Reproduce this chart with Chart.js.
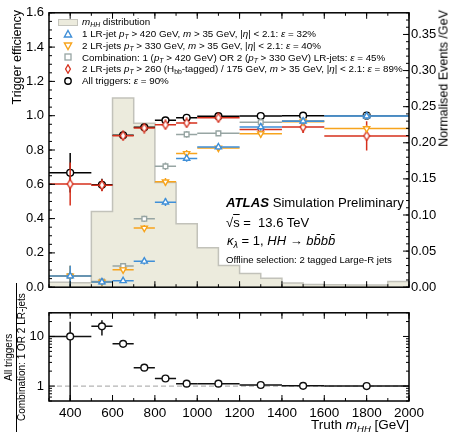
<!DOCTYPE html>
<html lang="en">
<head>
<meta charset="UTF-8">
<title>Trigger efficiency vs truth mHH</title>
<script src="https://cdn.jsdelivr.net/npm/chart.js"></script>
<style>
  body { margin: 0; background: #fff; }
  #wrap { position: relative; width: 451px; height: 432px; overflow: hidden;
          font-family: "Liberation Sans", Arial, sans-serif; color: #000; }
  canvas { position: absolute; left: 0; }
  .txt { position: absolute; white-space: nowrap; line-height: 1; }
  .vert { position: absolute; writing-mode: vertical-rl; transform: rotate(180deg);
          white-space: nowrap; line-height: 1; }
  sub { font-size: 70%; vertical-align: -0.3em; line-height: 0; }
  .leg { position: absolute; left: 82px; font-size: 9.8px; white-space: nowrap; line-height: 1; }
  .ico { position: absolute; left: 63px; width: 10px; height: 10px; }
</style>
</head>
<body>
<div id="wrap">
  <canvas id="top" width="451" height="300" style="top:0"></canvas>
  <canvas id="bot" width="451" height="132" style="top:300px"></canvas>

  <!-- legend -->
  <div style="position:absolute;left:58px;top:19px;width:20px;height:7px;background:#ecebdd;border:1px solid #c4c4bc;box-sizing:border-box"></div>
  <div class="leg" style="top:17.4px"><i>m</i><sub><i>HH</i></sub> distribution</div>
  <svg class="ico" style="top:29px"><polygon points="5,1.5 8.6,8 1.4,8" fill="#fff" stroke="#3f8fd8" stroke-width="1.4"/></svg>
  <div class="leg" style="top:29.2px">1 LR-jet <i>p</i><sub><i>T</i></sub> &gt; 420 GeV, <i>m</i> &gt; 35 GeV, |<i>η</i>| &lt; 2.1: <i>ε</i> = 32%</div>
  <svg class="ico" style="top:40.7px"><polygon points="1.4,2 8.6,2 5,8.5" fill="#fff" stroke="#f7a41d" stroke-width="1.4"/></svg>
  <div class="leg" style="top:40.9px">2 LR-jets <i>p</i><sub><i>T</i></sub> &gt; 330 GeV, <i>m</i> &gt; 35 GeV, |<i>η</i>| &lt; 2.1: <i>ε</i> = 40%</div>
  <svg class="ico" style="top:52.3px"><rect x="2" y="2" width="6" height="6" fill="#fff" stroke="#97a5a3" stroke-width="1.3"/></svg>
  <div class="leg" style="top:52.5px">Combination: 1 (<i>p</i><sub><i>T</i></sub> &gt; 420 GeV) OR 2 (<i>p</i><sub><i>T</i></sub> &gt; 330 GeV) LR-jets: <i>ε</i> = 45%</div>
  <svg class="ico" style="top:64px"><polygon points="5,0.8 7.4,5 5,9.2 2.6,5" fill="#fff" stroke="#d6301d" stroke-width="1.3"/></svg>
  <div class="leg" style="top:64.2px">2 LR-jets <i>p</i><sub><i>T</i></sub> &gt; 260 (H<sub>bb</sub>-tagged) / 175 GeV, <i>m</i> &gt; 35 GeV, |<i>η</i>| &lt; 2.1: <i>ε</i> = 89%</div>
  <svg class="ico" style="top:75.7px"><circle cx="5" cy="5" r="3.2" fill="#fff" stroke="#000" stroke-width="1.4"/></svg>
  <div class="leg" style="top:75.9px">All triggers: <i>ε</i> = 90%</div>

  <!-- labels -->
  <div class="txt" style="left:226px;top:195.5px;font-size:13.2px"><b><i>ATLAS</i></b> Simulation Preliminary</div>
  <div class="txt" style="left:226px;top:215.5px;font-size:13px">√<span style="text-decoration:overline">s</span> =&nbsp; 13.6 TeV</div>
  <div class="txt" style="left:227px;top:233.5px;font-size:13px"><i>κ</i><sub><i>λ</i></sub> = 1, <i>HH</i> → <i>bb̄bb̄</i></div>
  <div class="txt" style="left:226px;top:254.5px;font-size:9.6px">Offline selection: 2 tagged Large-R jets</div>

  <!-- axis titles -->
  <div class="vert" style="left:11px;top:10px;font-size:12.5px">Trigger efficiency</div>
  <div class="vert" style="left:438px;top:10px;font-size:12.5px">Normalised Events /GeV</div>
  <div class="vert" style="left:4px;top:283px;height:148px;text-align:center;font-size:10px">All triggers</div>
  <div style="position:absolute;left:15.5px;top:283px;width:1px;height:149px;background:#000"></div>
  <div class="vert" style="left:17px;top:283px;height:148px;text-align:center;font-size:10px">Combination: 1 OR 2 LR-jets</div>
  <div class="txt" style="right:42px;top:417.5px;font-size:13.5px">Truth <i>m</i><sub><i>HH</i></sub> [GeV]</div>
</div>

<script>
// bins of the efficiency measurement (GeV)
const binLo  = [300, 500, 600, 700, 800, 900, 1000, 1200, 1400, 1600];
const binHi  = [500, 600, 700, 800, 900, 1000, 1200, 1400, 1600, 2000];
const binMid = [400, 550, 650, 750, 850, 950, 1100, 1300, 1500, 1800];

// trigger efficiencies
const effOneJet  = [0.065, 0.030, 0.037, 0.151, 0.496, 0.751, 0.817, 0.934, 0.968, 0.998];
const effTwoJet  = [0.065, 0.030, 0.102, 0.345, 0.615, 0.780, 0.812, 0.895, 0.965, 0.925];
const effComb    = [0.065, 0.033, 0.123, 0.399, 0.705, 0.891, 0.897, 0.962, 0.970, 0.998];
const effHbb     = [0.602, 0.595, 0.883, 0.928, 0.947, 0.958, 0.988, 0.919, 0.934, 0.882];
const effAll     = [0.667, 0.597, 0.886, 0.932, 0.973, 0.988, 0.997, 0.998, 1.000, 1.000];
const errLowEff  = [0.060, 0.020, 0.012, 0.018, 0.022, 0.020, 0.015, 0.020, 0.020, 0.020];
const errHbb     = [0.125, 0.035, 0.015, 0.012, 0.012, 0.012, 0.010, 0.035, 0.035, 0.085];
const errAll     = [0.115, 0.035, 0.012, 0.010, 0.008, 0.006, 0.004, 0.004, 0.003, 0.003];

// truth mHH distribution (normalised), 100 GeV bins
const histEdges = [300, 400, 500, 600, 700, 800, 900, 1000, 1100, 1200, 1300, 1400, 1500, 1600, 1700, 1800, 1900, 2000];
const histVals  = [0.007, 0.006, 0.105, 0.262, 0.227, 0.145, 0.088, 0.0545, 0.030, 0.019, 0.0124, 0.0057, 0.0038, 0.0035, 0.0032, 0.0030, 0.008];

// ratio all triggers / combination
const ratioVals = [10.0, 16.0, 7.1, 2.35, 1.42, 1.12, 1.12, 1.05, 1.01, 1.00];
const ratioLo   = [0.1, 10.4, 6.75, 2.27, 1.38, 1.10, 1.10, 1.035, 0.995, 0.99];
const ratioHi   = [19.8, 21.2, 7.45, 2.43, 1.46, 1.14, 1.14, 1.065, 1.025, 1.01];

const xTicks = [400, 600, 800, 1000, 1200, 1400, 1600, 1800, 2000];
const ratioTicks = [1, 10];

const FONT = '"Liberation Sans", Arial, sans-serif';

function pts(vals) { return binMid.map((x, i) => ({ x, y: vals[i] })); }
function eb(vals, lo, hi) { return { xlo: binLo, xhi: binHi, lo, hi }; }
function sym(vals, err) { return eb(vals, vals.map((v, i) => v - err[i]), vals.map((v, i) => v + err[i])); }

function thinDiamond(color) {
  const c = document.createElement('canvas');
  c.width = 8; c.height = 11;
  const g = c.getContext('2d');
  g.beginPath();
  g.moveTo(4, 1); g.lineTo(6.8, 5.5); g.lineTo(4, 10); g.lineTo(1.2, 5.5); g.closePath();
  g.fillStyle = '#fff'; g.fill();
  g.lineWidth = 1.4; g.strokeStyle = color; g.stroke();
  return c;
}

// draws x (bin width) and y error bars under each dataset's markers
const errorBars = {
  id: 'errorBars',
  beforeDatasetDraw(chart, args) {
    const ds = chart.data.datasets[args.index];
    if (!ds.eb) return;
    const { ctx, chartArea: a } = chart;
    const xs = chart.scales.x, ys = chart.scales[ds.yAxisID || 'y'];
    ctx.save();
    ctx.beginPath(); ctx.rect(a.left, a.top, a.width, a.height); ctx.clip();
    ctx.strokeStyle = ds.borderColor; ctx.lineWidth = 1.5;
    ds.data.forEach((p, i) => {
      const px = xs.getPixelForValue(p.x), py = ys.getPixelForValue(p.y);
      ctx.beginPath();
      ctx.moveTo(xs.getPixelForValue(ds.eb.xlo[i]), py);
      ctx.lineTo(xs.getPixelForValue(ds.eb.xhi[i]), py);
      ctx.moveTo(px, ys.getPixelForValue(ds.eb.lo[i]));
      ctx.lineTo(px, ys.getPixelForValue(ds.eb.hi[i]));
      ctx.stroke();
    });
    ctx.restore();
  }
};

// frame with inward ticks on all four sides
const frame = {
  id: 'frame',
  afterDatasetsDraw(chart, args, o) {
    const { ctx, chartArea: a } = chart;
    const xs = chart.scales.x, yl = chart.scales[o.left], yr = chart.scales[o.right];
    ctx.save();
    ctx.strokeStyle = '#000'; ctx.lineWidth = 1;
    ctx.beginPath();
    [[o.xMajor, 6], [o.xMinor, 3]].forEach(([list, len]) => list.forEach(v => {
      const p = xs.getPixelForValue(v);
      ctx.moveTo(p, a.bottom); ctx.lineTo(p, a.bottom - len);
      ctx.moveTo(p, a.top); ctx.lineTo(p, a.top + len);
    }));
    [[o.lMajor, 6], [o.lMinor, 3]].forEach(([list, len]) => list.forEach(v => {
      const p = yl.getPixelForValue(v);
      ctx.moveTo(a.left, p); ctx.lineTo(a.left + len, p);
    }));
    [[o.rMajor, 6], [o.rMinor, 3]].forEach(([list, len]) => list.forEach(v => {
      const p = yr.getPixelForValue(v);
      ctx.moveTo(a.right, p); ctx.lineTo(a.right - len, p);
    }));
    ctx.stroke();
    ctx.lineWidth = 1.5;
    ctx.strokeRect(a.left, a.top, a.width, a.height);
    ctx.restore();
  }
};

function range(a, b, s) { const r = []; for (let v = a; v <= b + 1e-9; v += s) r.push(+v.toFixed(4)); return r; }
const xMinor = range(300, 2000, 100);

function markerSet(label, vals, bars, color, style, extra) {
  return Object.assign({
    label, data: pts(vals), eb: bars,
    borderColor: color, backgroundColor: '#fff',
    pointStyle: style, pointRadius: 3.6, pointBorderWidth: 1.4
  }, extra || {});
}

// ---- upper panel ----
const histData = histEdges.map((x, i) => ({ x, y: histVals[Math.min(i, histVals.length - 1)] }));

new Chart(document.getElementById('top'), {
  type: 'scatter',
  data: {
    datasets: [
      markerSet('1 LR-jet', effOneJet, sym(effOneJet, errLowEff), '#3f8fd8', 'triangle'),
      markerSet('2 LR-jets', effTwoJet, sym(effTwoJet, errLowEff), '#f7a41d', 'triangle', { rotation: 180 }),
      markerSet('Combination', effComb, sym(effComb, errLowEff), '#97a5a3', 'rect', { pointRadius: 3.3 }),
      markerSet('2 LR-jets Hbb', effHbb, sym(effHbb, errHbb), '#d6301d', thinDiamond('#d6301d')),
      markerSet('All triggers', effAll, sym(effAll, errAll), '#000', 'circle', { pointRadius: 3.4 }),
      {
        type: 'line', label: 'mHH distribution', data: histData, yAxisID: 'y2',
        stepped: 'before', fill: 'origin', pointRadius: 0,
        borderColor: '#c2c2ba', borderWidth: 1.5, backgroundColor: '#ecebdd'
      }
    ]
  },
  options: {
    responsive: false, animation: false, devicePixelRatio: 1,
    layout: { padding: { top: 10, bottom: 4, left: 0, right: 0 } },
    plugins: {
      legend: { display: false }, tooltip: { enabled: false },
      frame: {
        left: 'y', right: 'y2',
        xMajor: xTicks, xMinor,
        lMajor: range(0, 1.6, 0.2), lMinor: range(0, 1.6, 0.05),
        rMajor: range(0, 0.35, 0.05), rMinor: range(0, 0.38, 0.01)
      }
    },
    scales: {
      x: { type: 'linear', min: 300, max: 2000, display: false },
      y: {
        type: 'linear', position: 'left', min: 0, max: 1.6,
        afterFit(s) { s.width = 49; },
        grid: { display: false, drawTicks: false }, border: { display: false },
        ticks: { stepSize: 0.2, padding: 5, color: '#000', font: { size: 13, family: FONT },
                 callback: v => v.toFixed(1) }
      },
      y2: {
        type: 'linear', position: 'right', min: 0, max: 0.38,
        afterFit(s) { s.width = 42; },
        grid: { display: false, drawTicks: false }, border: { display: false },
        ticks: { stepSize: 0.05, includeBounds: false, padding: 2, color: '#000',
                 font: { size: 13, family: FONT }, callback: v => v.toFixed(2) }
      }
    }
  },
  plugins: [errorBars, frame]
});

// ---- ratio panel ----
new Chart(document.getElementById('bot'), {
  type: 'scatter',
  data: {
    datasets: [
      {
        label: 'ratio', data: pts(ratioVals), eb: eb(ratioVals, ratioLo, ratioHi),
        borderColor: '#111', backgroundColor: '#fff',
        pointStyle: 'circle', pointRadius: 3.4, pointBorderWidth: 1.4
      },
      {
        type: 'line', label: 'unity', data: [{ x: 300, y: 1 }, { x: 2000, y: 1 }],
        borderColor: '#b4b4b4', borderWidth: 1.2, borderDash: [5, 3], pointRadius: 0
      }
    ]
  },
  options: {
    responsive: false, animation: false, devicePixelRatio: 1,
    layout: { padding: { top: 5, right: 42, left: 0, bottom: 0 } },
    plugins: {
      legend: { display: false }, tooltip: { enabled: false },
      frame: {
        left: 'y', right: 'y',
        xMajor: xTicks, xMinor,
        lMajor: ratioTicks, lMinor: [0.5, 0.6, 0.7, 0.8, 0.9, 2, 3, 4, 5, 6, 7, 8, 9, 20, 30],
        rMajor: ratioTicks, rMinor: [0.5, 0.6, 0.7, 0.8, 0.9, 2, 3, 4, 5, 6, 7, 8, 9, 20, 30]
      }
    },
    scales: {
      x: {
        type: 'linear', min: 300, max: 2000,
        afterFit(s) { s.height = 31; },
        grid: { display: false, drawTicks: false }, border: { display: false },
        ticks: { stepSize: 200, includeBounds: false, padding: 4, maxRotation: 0, autoSkip: false,
                 color: '#000', font: { size: 13.5, family: FONT }, callback: v => String(v) }
      },
      y: {
        type: 'logarithmic', min: 0.5, max: 30,
        afterFit(s) { s.width = 49; },
        afterBuildTicks(s) { s.ticks = ratioTicks.map(v => ({ value: v })); },
        grid: { display: false, drawTicks: false }, border: { display: false },
        ticks: { padding: 5, color: '#000', font: { size: 13, family: FONT }, callback: v => String(v) }
      }
    }
  },
  plugins: [errorBars, frame]
});
</script>
</body>
</html>
